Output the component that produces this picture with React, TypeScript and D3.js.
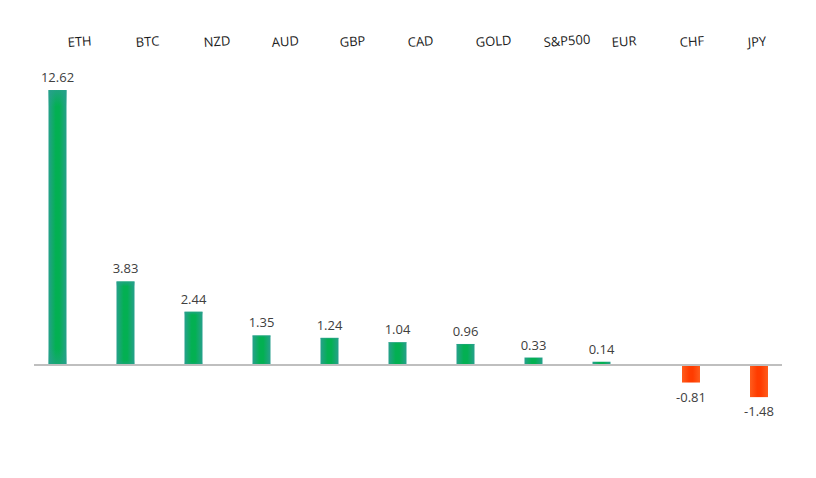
import React from 'react';
import { scaleBand, scaleLinear } from 'd3';

const categories = ['ETH', 'BTC', 'NZD', 'AUD', 'GBP', 'CAD', 'GOLD', 'S&P500', 'EUR', 'CHF', 'JPY'];
const values = [12.62, 3.83, 2.44, 1.35, 1.24, 1.04, 0.96, 0.33, 0.14, -0.81, -1.48];

const width = 816;
const height = 478;
const barWidth = 18;
const negGap = 21.5; // negative group sits a little further right
const font = "'Open Sans', 'Noto Sans', sans-serif";

function App() {
  const x = scaleBand<string>().domain(categories).range([23.5, 771.5]).padding(0);
  const y = scaleLinear().domain([-4, 14]).range([452, 60]);
  const zero = y(0);

  const data = categories.map((c, i) => ({ cat: c, value: values[i] }));

  return (
    <svg width={width} height={height} style={{ position: 'fixed', left: 0, top: 0, background: '#fff' }}>
      <defs>
        <linearGradient id="posH" x1="0" x2="1" y1="0" y2="0">
          <stop offset="0%" stopColor="#27a08c" />
          <stop offset="40%" stopColor="#03b052" />
          <stop offset="60%" stopColor="#03b052" />
          <stop offset="100%" stopColor="#27a08c" />
        </linearGradient>
        <linearGradient id="posV" x1="0" x2="0" y1="0" y2="1">
          <stop offset="0%" stopColor="#27a08c" stopOpacity={0.8} />
          <stop offset="6%" stopColor="#27a08c" stopOpacity={0} />
          <stop offset="94%" stopColor="#27a08c" stopOpacity={0} />
          <stop offset="100%" stopColor="#27a08c" stopOpacity={0.6} />
        </linearGradient>
        <linearGradient id="negH" x1="0" x2="1" y1="0" y2="0">
          <stop offset="0%" stopColor="#ff5c1c" />
          <stop offset="40%" stopColor="#ff3c00" />
          <stop offset="60%" stopColor="#ff3c00" />
          <stop offset="100%" stopColor="#ff5c1c" />
        </linearGradient>
      </defs>

      {data.map(d => {
        const cx = (x(d.cat) as number) + x.bandwidth() / 2 + (d.value < 0 ? negGap : 0);
        const top = d.value >= 0 ? y(d.value) : zero;
        const h = Math.abs(y(d.value) - zero);
        return (
          <g key={d.cat}>
            <rect x={cx - barWidth / 2} y={top} width={barWidth} height={h} fill={d.value >= 0 ? 'url(#posH)' : 'url(#negH)'} />
            {d.value >= 0 && (
              <rect x={cx - barWidth / 2} y={top} width={barWidth} height={h} fill="url(#posV)" />
            )}
            <text
              x={cx}
              y={d.value >= 0 ? top - 8 : top + h + 19}
              textAnchor="middle"
              fontFamily={font}
              fontSize={13}
              fill="#404040"
            >
              {d.value.toFixed(2)}
            </text>
          </g>
        );
      })}

      <line x1={34} x2={782} y1={zero} y2={zero} stroke="#bfbfbf" strokeWidth={2} />

      {categories.map(c => {
        const lx = (x(c) as number) + 44.5;
        return (
          <text
            key={c}
            x={lx}
            y={47}
            fontFamily={font}
            fontSize={13}
            fill="#1a1a1a"
            transform={`rotate(-4, ${lx}, 47)`}
          >
            {c}
          </text>
        );
      })}
    </svg>
  );
}

export default App;
